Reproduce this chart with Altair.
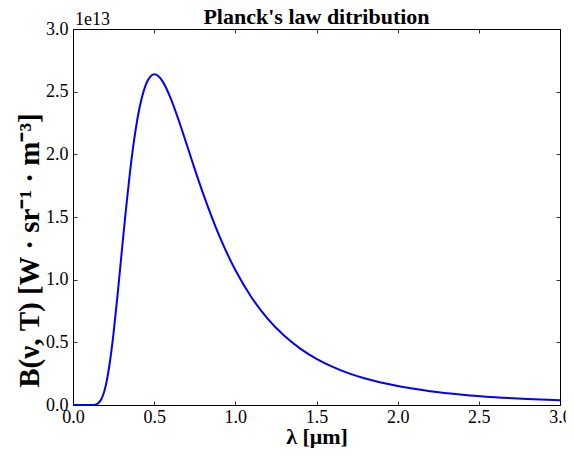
import altair as alt
import pandas as pd

# wavelength [um]
wavelength = [0.0, 0.05, 0.10, 0.125, 0.15, 0.16, 0.175, 0.19, 0.20, 0.225, 0.25,
              0.275, 0.30, 0.325, 0.35, 0.375, 0.40, 0.425, 0.45, 0.475, 0.50,
              0.525, 0.55, 0.60, 0.65, 0.70, 0.75, 0.80, 0.90, 1.0, 1.1, 1.2,
              1.3, 1.4, 1.5, 1.6, 1.7, 1.8, 2.0, 2.2, 2.4, 2.6, 2.8, 3.0]
# spectral radiance, in units of 1e13
radiance = [0.0, 0.0, 0.0, 0.001, 0.0097, 0.0198, 0.048, 0.098, 0.146, 0.323, 0.576,
            0.885, 1.218, 1.546, 1.846, 2.102, 2.306, 2.458, 2.561, 2.618, 2.638,
            2.625, 2.586, 2.453, 2.276, 2.080, 1.882, 1.692, 1.353, 1.077, 0.858, 0.687,
            0.554, 0.450, 0.368, 0.304, 0.252, 0.211, 0.151, 0.110, 0.082, 0.062, 0.048, 0.038]

tick_values = [0.0, 0.5, 1.0, 1.5, 2.0, 2.5, 3.0]
offset_label = ["1e13"]
title_text = ["Planck's law ditribution"]
x_title = "λ [μm]"
y_title = "B(ν, T) [W · sr⁻¹ · m⁻³]"

FONT = "Liberation Serif"
W, H = 487, 376

df = pd.DataFrame({"lam": wavelength, "B": radiance})
df_off = pd.DataFrame({"t": offset_label})
df_title = pd.DataFrame({"t": title_text})

x_axis = alt.Axis(values=tick_values, format=".1f", title=x_title,
                  labelFont=FONT, labelFontSize=18, labelColor="black",
                  labelPadding=3, labelFlush=False, labelOverlap=False,
                  ticks=False, tickSize=0, domain=False,
                  grid=True, gridColor="black", gridWidth=0.8, gridOpacity=1,
                  gridDash=[4, H - 8, 4, 2000],
                  titleFont=FONT, titleFontSize=22, titleFontWeight="bold",
                  titleColor="black", titleBaseline="alphabetic", titleY=38)
y_axis = alt.Axis(values=tick_values, format=".1f", title=y_title,
                  labelFont=FONT, labelFontSize=18, labelColor="black",
                  labelPadding=5, labelFlush=False, labelOverlap=False,
                  ticks=False, tickSize=0, domain=False,
                  grid=True, gridColor="black", gridWidth=0.8, gridOpacity=1,
                  gridDash=[4, W - 8, 4, 2000],
                  titleFont=FONT, titleFontSize=29, titleFontWeight="bold",
                  titleColor="black", titleBaseline="alphabetic",
                  titleX=-35, titleY=221)

line = alt.Chart(df).mark_line(color="#0000ff", strokeWidth=2, interpolate="monotone").encode(
    x=alt.X("lam:Q", scale=alt.Scale(domain=[0, 3], nice=False, zero=False), axis=x_axis),
    y=alt.Y("B:Q", scale=alt.Scale(domain=[0, 3], nice=False, zero=False), axis=y_axis),
)

off = alt.Chart(df_off).mark_text(font=FONT, fontSize=18, align="left",
                                  baseline="alphabetic", color="black").encode(
    text="t:N", x=alt.value(2), y=alt.value(-4)
)

title = alt.Chart(df_title).mark_text(font=FONT, fontSize=22, fontWeight="bold",
                                      align="center", baseline="alphabetic",
                                      color="black").encode(
    text="t:N", x=alt.value(W / 2), y=alt.value(-5)
)

chart = (line + off + title).properties(
    width=W, height=H,
    autosize=alt.AutoSizeParams(type="none"),
    padding={"left": 65, "top": 21, "right": 6, "bottom": 43},
).configure_view(stroke="black", strokeWidth=1)

chart.save("out.html", embed_options={"renderer": "svg", "actions": False})
